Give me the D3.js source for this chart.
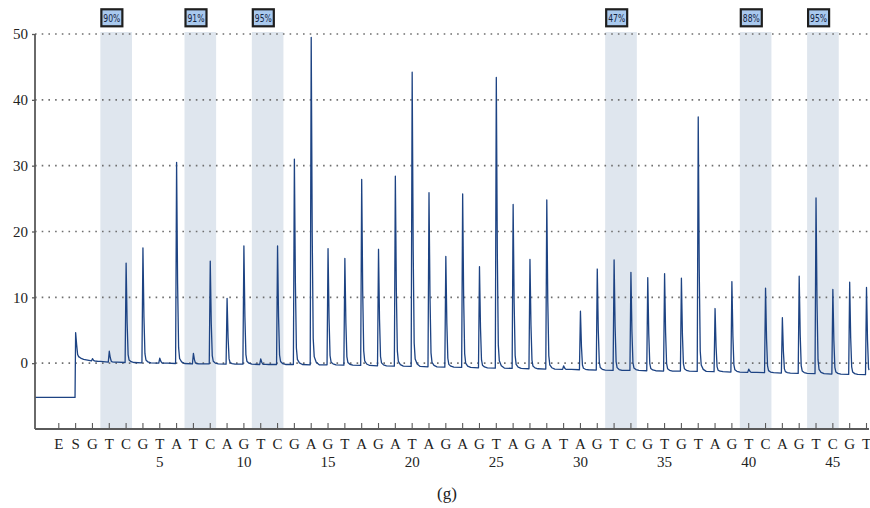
<!DOCTYPE html>
<html><head><meta charset="utf-8">
<script src="https://cdn.jsdelivr.net/npm/d3@7"></script>
<style>body{margin:0;background:#fff}svg{display:block}</style></head>
<body>
<svg id="chart" width="870" height="508"></svg>
<script>
// ---- data ----
const dispensations = ["E","S","G","T","C","G","T","A","T","C","A","G","T","C","G","A","G","T","A","G","A","T","A","G","A","G","T","A","G","A","T","A","G","T","C","G","T","G","T","A","G","T","C","A","G","T","C","G","T"];
const dispNumbers = [5,10,15,20,25,30,35,40,45];
// peak top value at each dispensation position (E has no peak)
const peakTops = [null,4.65,0.6,1.8,15.2,17.5,0.75,30.5,1.5,15.5,9.85,17.8,0.65,17.8,31,49.5,17.4,15.9,27.9,17.3,28.4,44.2,25.9,16.2,25.7,14.65,43.4,24.1,15.75,24.8,-0.4,7.9,14.3,15.7,13.8,13.0,13.6,12.9,37.4,8.3,12.4,-0.9,11.4,6.9,13.2,25.1,11.2,12.3,11.5];
// baseline level following each dispensation
const baselines = [-5.2,0.3,0.25,0.15,0.1,0.05,0.0,-0.05,-0.1,-0.1,-0.15,-0.15,-0.2,-0.2,-0.2,-0.25,-0.25,-0.3,-0.35,-0.4,-0.45,-0.5,-0.55,-0.6,-0.65,-0.7,-0.75,-0.8,-0.85,-0.9,-0.95,-1.0,-1.05,-1.1,-1.1,-1.15,-1.2,-1.2,-1.25,-1.3,-1.35,-1.4,-1.45,-1.5,-1.55,-1.6,-1.65,-1.7,-1.75];
const yTicks = [0,10,20,30,40,50];
const bandStarts = [3,8,12,33,41,45];
const bandLabels = ["90%","91%","95%","47%","88%","95%"];
const caption = "(g)";

(function(){
const svg = d3.select("#chart");
const pLeft = 35, pRight = 869, pTop = 34, pBottom = 429;
const x = d3.scaleLinear().domain([0,48]).range([58.3,866]);
const y = d3.scaleLinear().domain([-10,50]).range([pBottom,pTop]);
const pxPerIdx = (x(48)-x(0))/48;

// bands
const bandG = svg.append("g");
bandStarts.forEach((s,i)=>{
  const x0 = x(s-0.5), x1 = x(s+1.38);
  bandG.append("rect").attr("x",x0).attr("y",pTop-2).attr("width",x1-x0).attr("height",pBottom-pTop+2)
    .attr("fill","#dfe6ee");
  bandG.append("rect").attr("x",x0+1).attr("y",9.3).attr("width",21).attr("height",17)
    .attr("fill","#a9c9ee").attr("stroke","#1e1e1e").attr("stroke-width",2.2);
  bandG.append("text").attr("x",x0+11.5).attr("y",21.8).attr("text-anchor","middle")
    .attr("font-family","DejaVu Sans, sans-serif").attr("font-size",10).attr("fill","#14233f")
    .attr("textLength",17).attr("lengthAdjust","spacingAndGlyphs")
    .text(bandLabels[i]);
});

// grid
svg.append("g").selectAll("line").data(yTicks).join("line")
  .attr("x1",pLeft).attr("x2",pRight).attr("y1",d=>y(d)).attr("y2",d=>y(d))
  .attr("stroke","#6f6f6f").attr("stroke-width",1.6).attr("stroke-dasharray","1.6,5.1");

// trace: peak shape (offset in px -> fraction of peak height)
const shapeOffs = [-1, 0, 1, 2, 3, 5, 8];
const shapeVals = [0, 1, 0.4, 0.08, 0.025, 0.008, 0];
function kernel(dpx){
  if (dpx <= shapeOffs[0] || dpx >= shapeOffs[shapeOffs.length-1]) return 0;
  for (let k=1;k<shapeOffs.length;k++){
    if (dpx <= shapeOffs[k]){
      const t = (dpx-shapeOffs[k-1])/(shapeOffs[k]-shapeOffs[k-1]);
      return shapeVals[k-1] + t*(shapeVals[k]-shapeVals[k-1]);
    }
  }
  return 0;
}
const peaks = [];
for (let i=1;i<peakTops.length;i++){
  peaks.push({pos:i+0.03, amp: peakTops[i]-baselines[i], idx:i});
}
const sPos = peaks[0].pos;
function valueAt(xi){
  let seg = 1;
  for (const p of peaks){ if (xi >= p.pos - 1.001/pxPerIdx) seg = Math.max(seg,p.idx); }
  let v = baselines[seg];
  for (const p of peaks){ v += p.amp*kernel((xi-p.pos)*pxPerIdx); }
  const d = (xi - sPos)*pxPerIdx;
  if (d > 0) v += 0.9*Math.exp(-d/7);
  return v;
}
const pts = [[x.invert(pLeft), baselines[0]], [sPos - 0.6/pxPerIdx, baselines[0]]];
const offs = [0,1,2,3,5,8];
peaks.forEach((p,k)=>{
  const o2 = k===0 ? offs : [-1].concat(offs);
  o2.forEach(o=>{
    const xi = p.pos + o/pxPerIdx;
    if (x(xi) <= pRight) pts.push([xi, valueAt(xi)]);
  });
});
pts.push([x.invert(pRight), valueAt(x.invert(pRight))]);
pts.sort((a,b)=>a[0]-b[0]);
svg.append("path").datum(pts)
  .attr("d", d3.line().x(d=>x(d[0])).y(d=>y(d[1])))
  .attr("fill","none").attr("stroke","#1d4383").attr("stroke-width",1.3).attr("stroke-linejoin","round");

// axes
const axisColor = "#5a5a5a";
svg.append("line").attr("x1",pLeft).attr("x2",pLeft).attr("y1",pTop).attr("y2",pBottom)
  .attr("stroke",axisColor).attr("stroke-width",1.8);
svg.append("line").attr("x1",pLeft).attr("x2",pRight).attr("y1",pBottom).attr("y2",pBottom)
  .attr("stroke",axisColor).attr("stroke-width",1.8);

const yAxis = svg.append("g").attr("transform",`translate(${pLeft},0)`)
  .call(d3.axisLeft(y).tickValues(yTicks).tickSize(3).tickPadding(4));
yAxis.select(".domain").remove();
yAxis.selectAll("line").attr("stroke",axisColor).attr("stroke-width",1.3);
yAxis.selectAll("text").attr("font-family","Liberation Serif, serif").attr("font-size",15).attr("fill","#222");

const xAxis = svg.append("g").attr("transform",`translate(0,${pBottom})`)
  .call(d3.axisBottom(x).tickValues(d3.range(0,49)).tickFormat(i=>dispensations[i]).tickSizeInner(-6).tickSizeOuter(0).tickPadding(9));
xAxis.select(".domain").remove();
xAxis.selectAll("line").attr("stroke",axisColor).attr("stroke-width",1.1);
xAxis.selectAll("text").attr("font-family","Liberation Serif, serif").attr("font-size",15).attr("fill","#222");

const numAxis = svg.append("g").attr("transform",`translate(0,${pBottom})`)
  .call(d3.axisBottom(x).tickValues(dispNumbers.map(n=>n+1)).tickFormat((d,i)=>dispNumbers[i]).tickSize(0).tickPadding(27));
numAxis.select(".domain").remove();
numAxis.selectAll("text").attr("font-family","Liberation Serif, serif").attr("font-size",15).attr("fill","#222");

svg.append("text").attr("x",447).attr("y",499).attr("text-anchor","middle")
  .attr("font-family","Liberation Serif, serif").attr("font-size",17).attr("fill","#222").text(caption);
})();
</script>
</body></html>
